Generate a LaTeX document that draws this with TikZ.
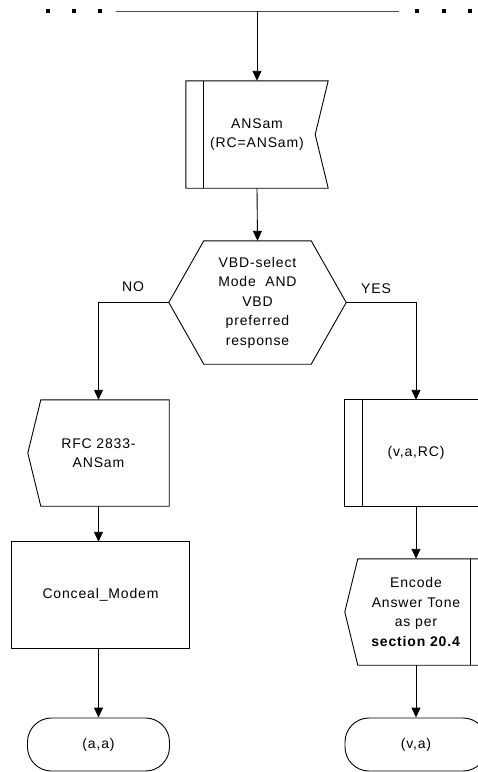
\documentclass[tikz,border=0pt]{standalone}
\usepackage{fontspec}
\setmainfont{Liberation Sans}[LetterSpace=6]
\usetikzlibrary{arrows.meta}
\tikzset{
  lbl/.style={align=center, inner sep=0pt, font=\fontsize{14}{19.5}\selectfont},
  holder/.style={lbl, draw=none, minimum width=#1},
  outline/.style={draw=black, line width=0.9pt, line join=miter},
  flow/.style={-{Triangle[width=9pt,length=10pt]}, line width=0.9pt},
  dotsq/.style={fill=black},
}
\begin{document}
\begin{tikzpicture}[x=1pt,y=-1pt]
\clip (0,0) rectangle (478,772);
\fill[white] (0,0) rectangle (478,772);
% top bar and dots
\foreach \dx in {46,72,98,415,442,468} \fill[dotsq] (\dx,9) rectangle ++(4,4);
\draw[line width=0.9pt, black!70] (116,11) -- (399,11);
\coordinate (topbar) at (257,11);
% nodes
\node[holder=142, minimum height=107] (ansam) at (257,134.5) {ANSam\\(RC=ANSam)};
\node[holder=177, minimum height=123] (hex) at (257.5,302.5) {VBD-select\\Mode\ \ AND\\VBD\\preferred\\response};
\node[holder=141, minimum height=106] (rfc) at (98.5,453) {RFC 2833-\\ANSam};
\node[holder=177, minimum height=106] (conceal) at (100.5,595) {Conceal\_Modem};
\node[holder=142, minimum height=106] (varc) at (416,453) {(v,a,RC)};
\node[holder=142, minimum height=106] (encode) at (416,612) {Encode\\Answer Tone\\as per\\\textbf{section 20.4}};
\node[holder=142, minimum height=53, outline, rounded corners=24pt] (ovalL) at (98.5,744.5) {(a,a)};
\node[holder=142, minimum height=53, outline, rounded corners=24pt] (ovalR) at (416,744.5) {(v,a)};
\node[lbl] (no) at (133,287) {NO};
\node[lbl] (yes) at (376,289) {YES};
% outlines
\draw[outline] (ansam.north west) -- (ansam.north east) -- ([xshift=-13]ansam.east) -- (ansam.south east) -- (ansam.south west) -- cycle;
\draw[outline] ([xshift=18]ansam.north west) -- ([xshift=18]ansam.south west);
\draw[outline] (hex.west) -- ([xshift=35]hex.north west) -- ([xshift=-35]hex.north east) -- (hex.east) -- ([xshift=-35]hex.south east) -- ([xshift=35]hex.south west) -- cycle;
\draw[outline] ([xshift=13]rfc.north west) -- (rfc.north east) -- (rfc.south east) -- ([xshift=13]rfc.south west) -- (rfc.west) -- cycle;
\draw[outline] (conceal.north west) rectangle (conceal.south east);
\draw[outline] (varc.north west) rectangle (varc.south east);
\draw[outline] ([xshift=18]varc.north west) -- ([xshift=18]varc.south west);
\draw[outline] ([xshift=13]encode.north west) -- (encode.north east) -- (encode.south east) -- ([xshift=13]encode.south west) -- (encode.west) -- cycle;
\draw[outline] ([xshift=-17]encode.north east) -- ([xshift=-17]encode.south east);
% connectors
\draw[flow] (topbar) -- (ansam.north);
\draw[flow] (ansam.south) -- (hex.north);
\draw[flow] (hex.west) -| (rfc.north);
\draw[flow] (hex.east) -| (varc.north);
\draw[flow] (rfc.south) -- (rfc.south |- conceal.north);
\draw[flow] (rfc.south |- conceal.south) -- (ovalL.north);
\draw[flow] (varc.south) -- (encode.north);
\draw[flow] (encode.south) -- (ovalR.north);
\end{tikzpicture}
\end{document}
